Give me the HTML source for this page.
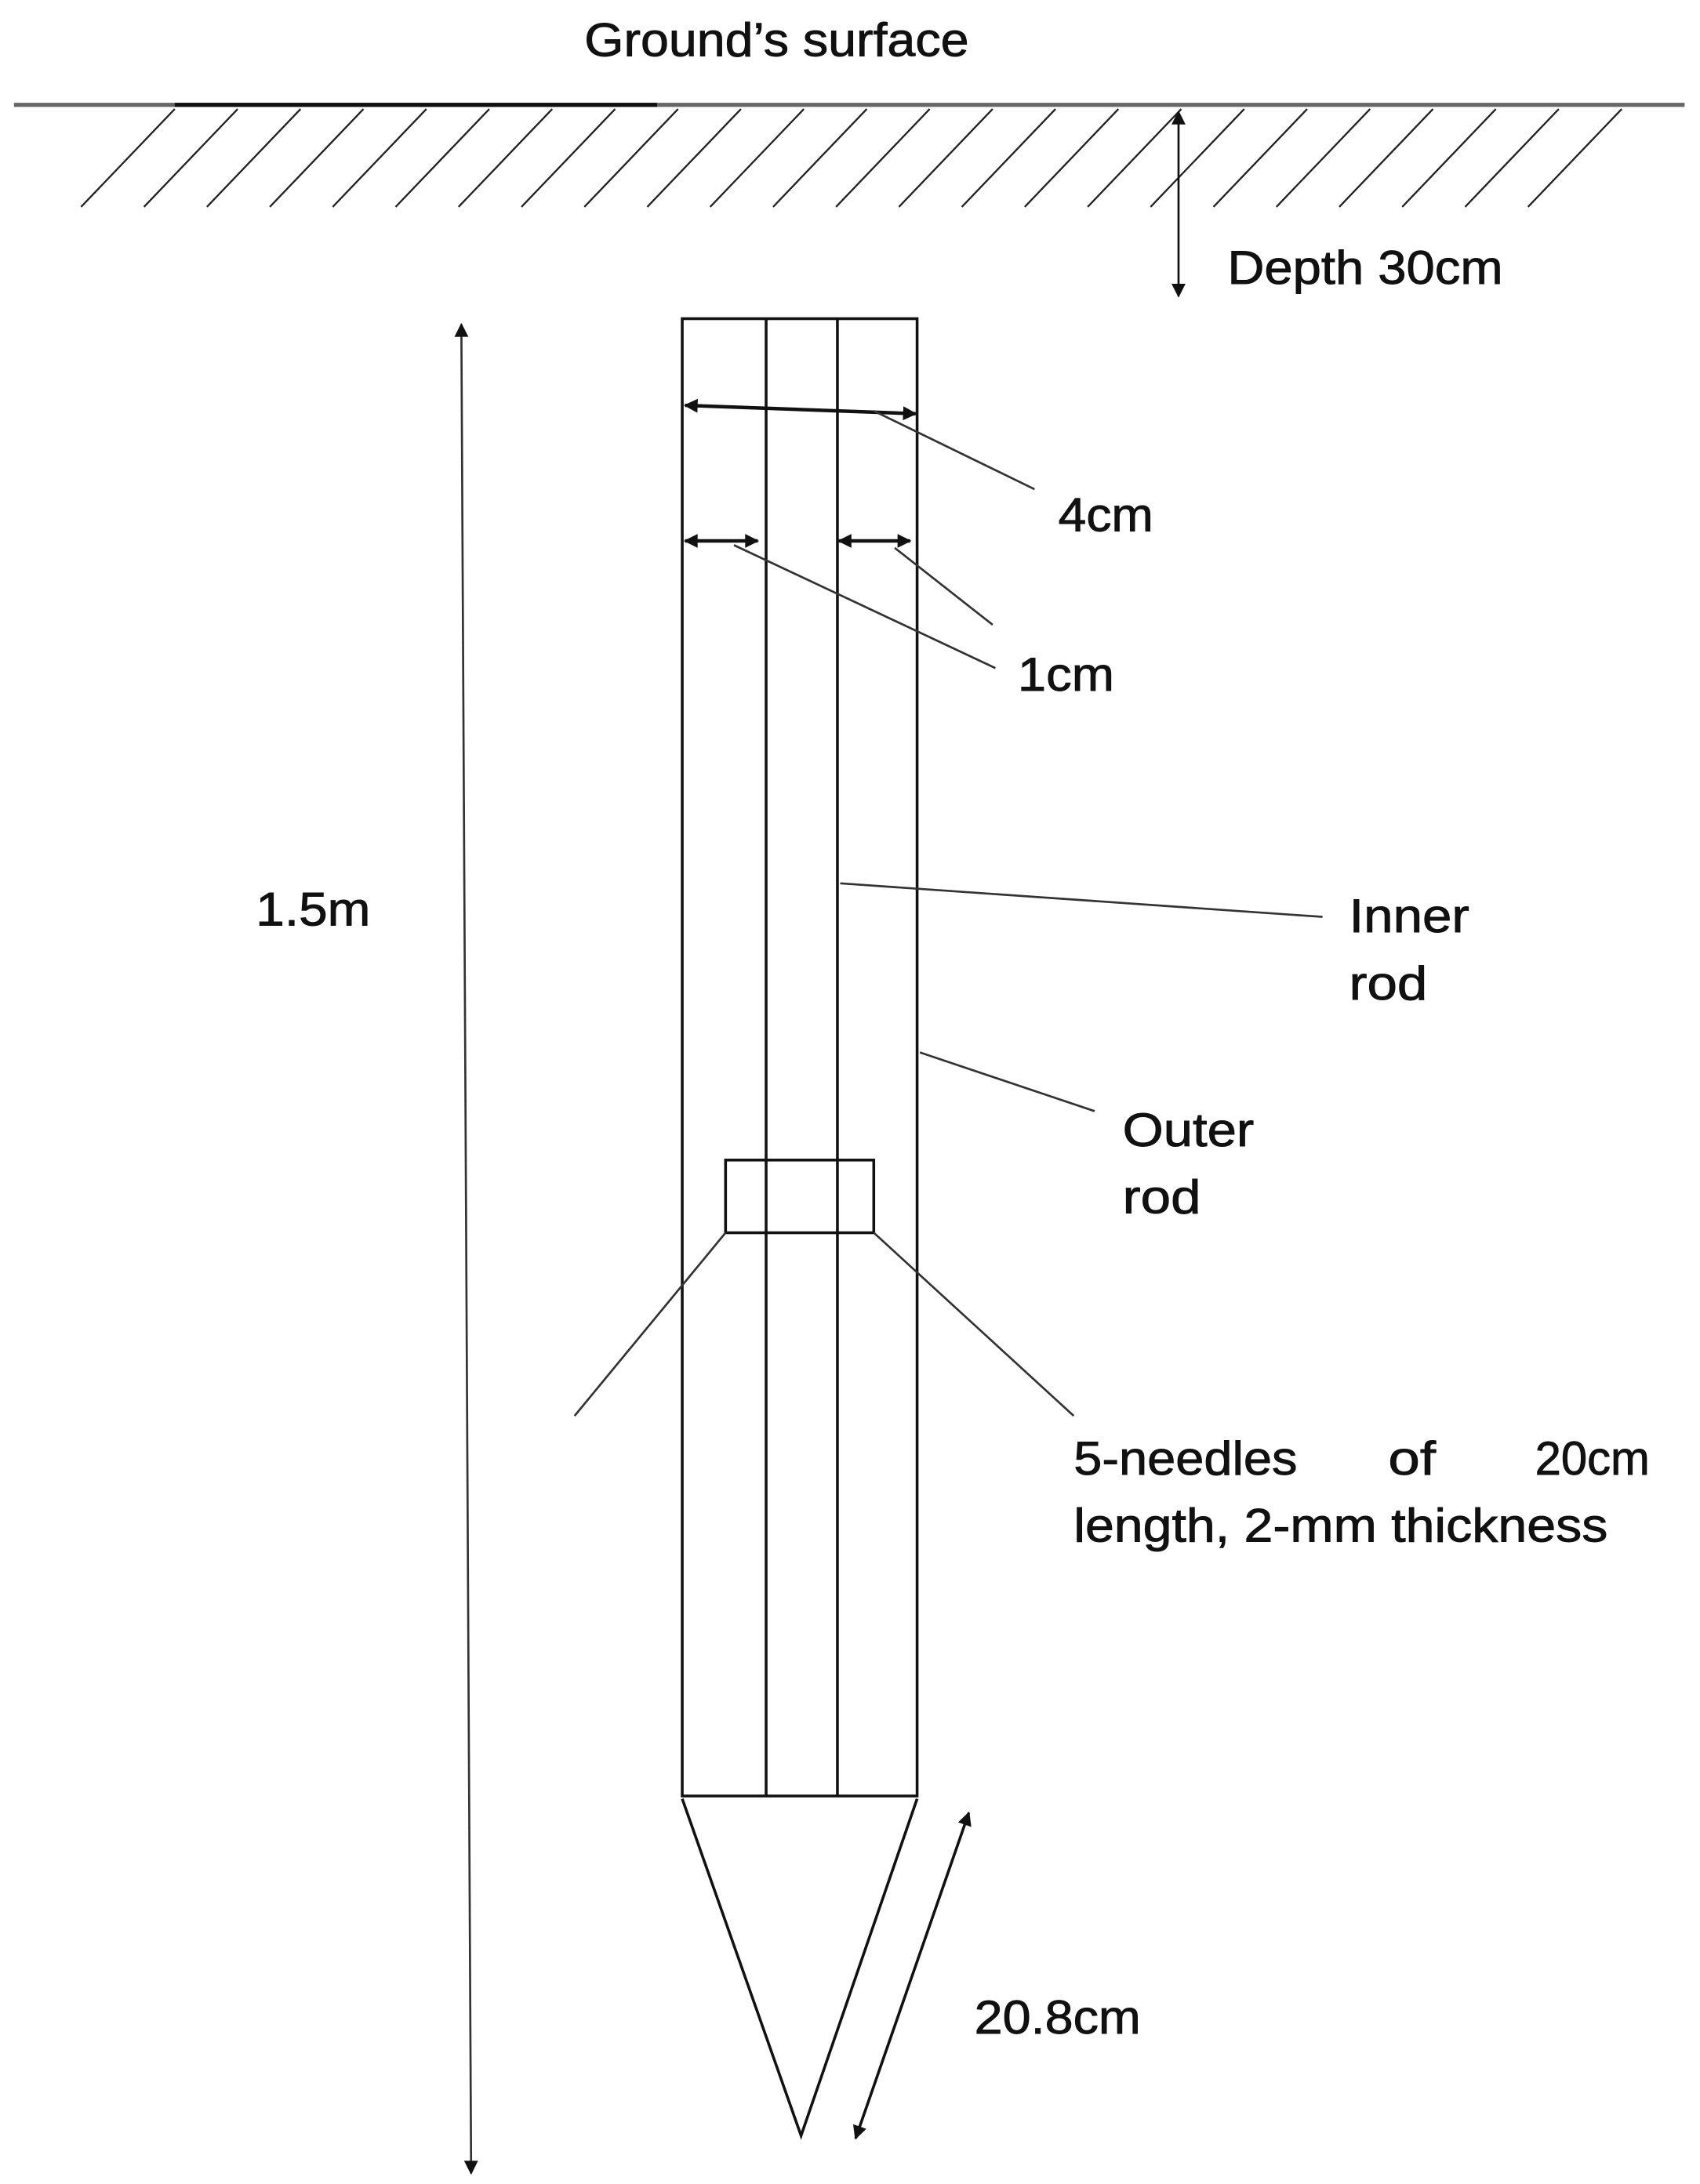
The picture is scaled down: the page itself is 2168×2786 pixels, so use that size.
<!DOCTYPE html>
<html><head><meta charset="utf-8"><style>
html,body{margin:0;padding:0;background:#fff;}
svg{display:block;}
text{font-family:"Liberation Sans",sans-serif;font-size:34px;fill:#111;stroke:#111;stroke-width:0.5;}
</style></head><body>
<svg width="2168" height="2786" viewBox="0 0 1216 1562.6" xmlns="http://www.w3.org/2000/svg">
<defs>
<marker id="b" viewBox="0 0 10 10" refX="9" refY="5" markerWidth="12" markerHeight="10" orient="auto-start-reverse" markerUnits="userSpaceOnUse">
<path d="M0,0 L10,5 L0,10 z" fill="#111"/></marker>
</defs>
<text x="418" y="40" textLength="275" lengthAdjust="spacingAndGlyphs">Ground’s surface</text>
<line x1="10" y1="75" x2="1205" y2="75" stroke="#666" stroke-width="3"/>
<line x1="125" y1="75" x2="470" y2="75" stroke="#111" stroke-width="3"/>
<g stroke="#222" stroke-width="1.3">
<line x1="125" y1="78" x2="58" y2="148"/><line x1="170" y1="78" x2="103" y2="148"/>
<line x1="215" y1="78" x2="148" y2="148"/><line x1="260" y1="78" x2="193" y2="148"/>
<line x1="305" y1="78" x2="238" y2="148"/><line x1="350" y1="78" x2="283" y2="148"/>
<line x1="395" y1="78" x2="328" y2="148"/><line x1="440" y1="78" x2="373" y2="148"/>
<line x1="485" y1="78" x2="418" y2="148"/><line x1="530" y1="78" x2="463" y2="148"/>
<line x1="575" y1="78" x2="508" y2="148"/><line x1="620" y1="78" x2="553" y2="148"/>
<line x1="665" y1="78" x2="598" y2="148"/><line x1="710" y1="78" x2="643" y2="148"/>
<line x1="755" y1="78" x2="688" y2="148"/><line x1="800" y1="78" x2="733" y2="148"/>
<line x1="845" y1="78" x2="778" y2="148"/><line x1="890" y1="78" x2="823" y2="148"/>
<line x1="935" y1="78" x2="868" y2="148"/><line x1="980" y1="78" x2="913" y2="148"/>
<line x1="1025" y1="78" x2="958" y2="148"/><line x1="1070" y1="78" x2="1003" y2="148"/>
<line x1="1115" y1="78" x2="1048" y2="148"/><line x1="1160" y1="78" x2="1093" y2="148"/>
</g>
<line x1="843" y1="80" x2="843" y2="212" stroke="#111" stroke-width="1.5" marker-start="url(#b)" marker-end="url(#b)"/>
<text x="878" y="203" textLength="197" lengthAdjust="spacingAndGlyphs">Depth 30cm</text>
<g stroke="#111" stroke-width="2" fill="none">
<rect x="488" y="228" width="168" height="1057"/>
<line x1="548" y1="228" x2="548" y2="1285"/>
<line x1="599" y1="228" x2="599" y2="1285"/>
<rect x="519" y="830" width="106" height="52" fill="#fff"/>
<line x1="548" y1="830" x2="548" y2="882"/>
<line x1="599" y1="830" x2="599" y2="882"/>
<polyline points="488,1287 573,1528 656,1287"/>
</g>
<line x1="490" y1="290" x2="655" y2="296" stroke="#111" stroke-width="2.5" marker-start="url(#b)" marker-end="url(#b)"/>
<line x1="490" y1="387" x2="542" y2="387" stroke="#111" stroke-width="2.5" marker-start="url(#b)" marker-end="url(#b)"/>
<line x1="600" y1="387" x2="651" y2="387" stroke="#111" stroke-width="2.5" marker-start="url(#b)" marker-end="url(#b)"/>
<g stroke="#333" stroke-width="1.5">
<line x1="625" y1="294" x2="740" y2="350"/>
<line x1="525" y1="390" x2="712" y2="478"/>
<line x1="640" y1="392" x2="710" y2="447"/>
<line x1="601" y1="632" x2="946" y2="656"/>
<line x1="658" y1="753" x2="783" y2="795"/>
<line x1="519" y1="882" x2="411" y2="1013"/>
<line x1="625" y1="882" x2="768" y2="1013"/>
</g>
<text x="757" y="380" textLength="68" lengthAdjust="spacingAndGlyphs">4cm</text>
<text x="728" y="494" textLength="69" lengthAdjust="spacingAndGlyphs">1cm</text>
<line x1="330" y1="232" x2="337" y2="1555" stroke="#333" stroke-width="1.5" marker-start="url(#b)" marker-end="url(#b)"/>
<text x="183" y="662" textLength="82" lengthAdjust="spacingAndGlyphs">1.5m</text>
<text x="965" y="667" textLength="86" lengthAdjust="spacingAndGlyphs">Inner</text>
<text x="965" y="715" textLength="56" lengthAdjust="spacingAndGlyphs">rod</text>
<text x="803" y="820" textLength="94" lengthAdjust="spacingAndGlyphs">Outer</text>
<text x="803" y="868" textLength="56" lengthAdjust="spacingAndGlyphs">rod</text>
<text x="768" y="1055" textLength="160" lengthAdjust="spacingAndGlyphs">5-needles</text>
<text x="993" y="1055" textLength="34" lengthAdjust="spacingAndGlyphs">of</text>
<text x="1098" y="1055" textLength="82" lengthAdjust="spacingAndGlyphs">20cm</text>
<text x="768" y="1103" textLength="382" lengthAdjust="spacingAndGlyphs">length, 2-mm thickness</text>
<line x1="693" y1="1297" x2="612" y2="1530" stroke="#111" stroke-width="2" marker-start="url(#b)" marker-end="url(#b)"/>
<text x="697" y="1455" textLength="119" lengthAdjust="spacingAndGlyphs">20.8cm</text>
</svg>
</body></html>
